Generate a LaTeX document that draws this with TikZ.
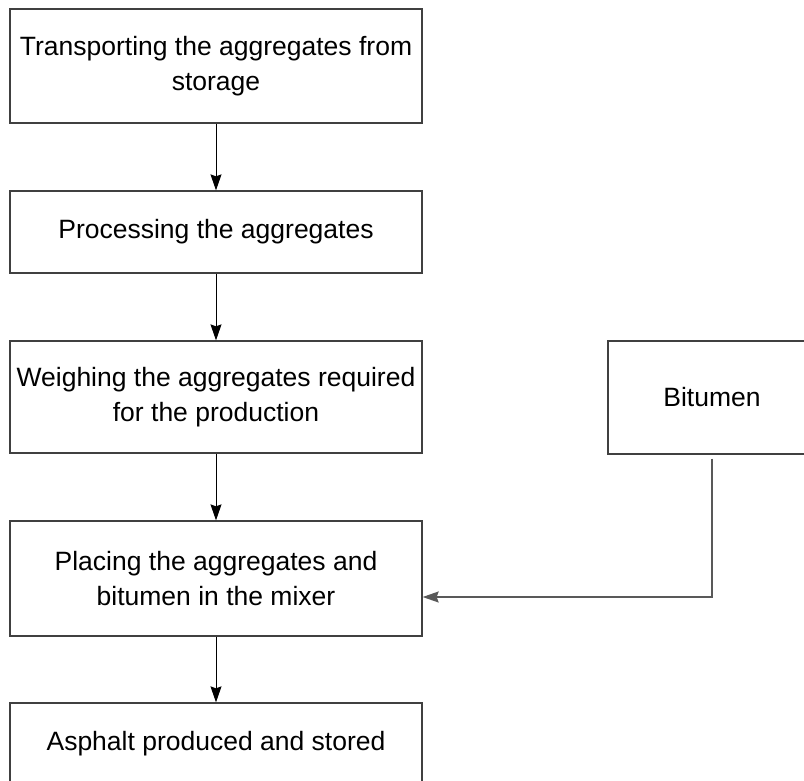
\documentclass[tikz,border=0pt]{standalone}
\usepackage{fontspec}
\setmainfont{Liberation Sans}
\usetikzlibrary{arrows.meta}

\begin{document}
\begin{tikzpicture}[
        x=1pt, y=-1pt,
        stage/.style={draw=black!75, line width=1.3pt, minimum width=412pt, align=center,
                      font=\fontsize{26.5}{35}\selectfont, inner sep=0pt},
        flow/.style={-{Stealth[length=16pt, width=11pt, inset=2pt]}, line width=1pt, black},
        feed/.style={-{Stealth[length=16pt, width=11pt, inset=2pt]}, line width=1.4pt, black!65}
    ]
        \useasboundingbox (0,0) rectangle (804,780);
        \clip (0,0) rectangle (804,780);

        % Process stages
        \node[stage, minimum height=114pt] (transport) at (216, 66) {Transporting the aggregates from\\storage};
        \node[stage, minimum height=82pt] (process) at (216, 232) {Processing the aggregates};
        \node[stage, minimum height=112pt] (weigh) at (216, 397) {Weighing the aggregates required\\for the production};
        \node[stage, minimum height=115pt] (mixer) at (216, 578.5) {Placing the aggregates and\\bitumen in the mixer};
        \node[stage, minimum height=82pt] (asphalt) at (216, 744) {Asphalt produced and stored};

        % Binder input
        \node[stage, minimum width=208pt, minimum height=113pt] (bitumen) at (712, 397.5) {Bitumen};

        % Main flow
        \draw[flow] (transport) -- (process);
        \draw[flow] (process) -- (weigh);
        \draw[flow] (weigh) -- (mixer);
        \draw[flow] (mixer) -- (asphalt);

        % Bitumen into the mixer
        \draw[feed, shorten <=4pt] (bitumen.south) |- ([yshift=-18.5pt]mixer.east);
    \end{tikzpicture}
\end{document}
